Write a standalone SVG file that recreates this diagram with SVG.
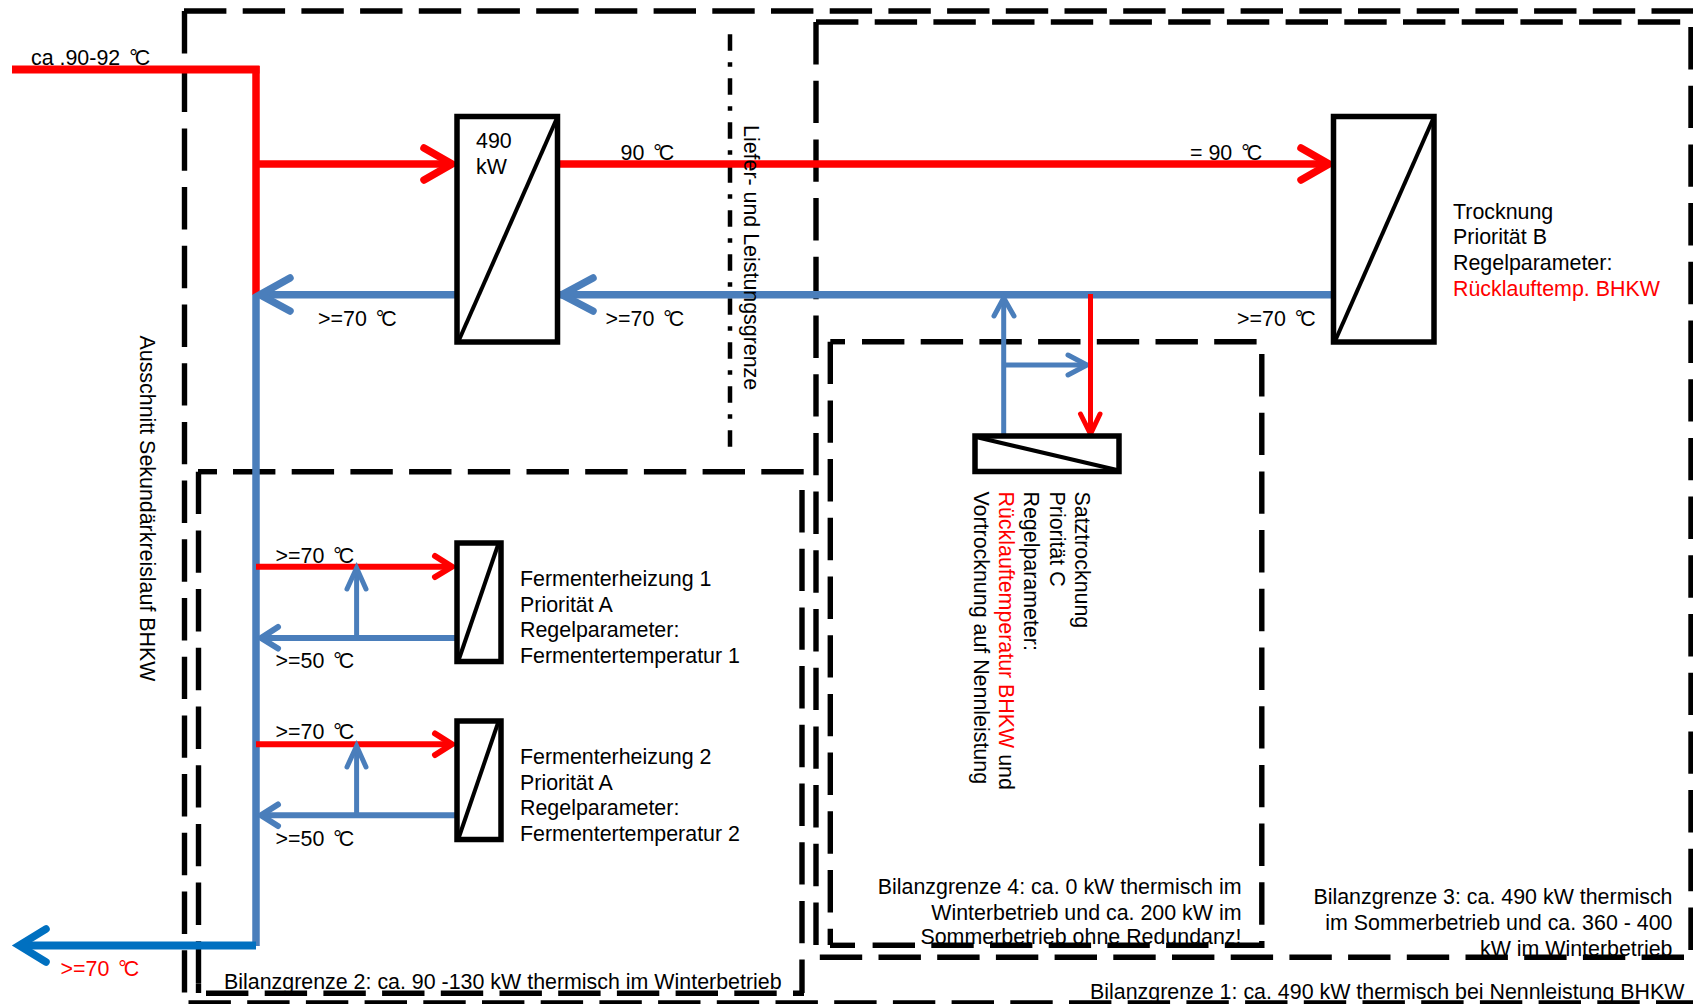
<svg xmlns="http://www.w3.org/2000/svg" width="1693" height="1004" viewBox="0 0 1693 1004">
<style>
text{font-family:"Liberation Sans",Arial,sans-serif;font-size:21.4px;fill:#000}
.red{fill:#f00}
.blk{fill:#000}
.end{text-anchor:end}
.deg{letter-spacing:-3px}
.b{fill:none;stroke:#000;stroke-width:5.4;stroke-dasharray:42.4 16.3}
.s{stroke-dasharray:none}
.dd{fill:none;stroke:#000;stroke-width:4.5;stroke-dasharray:16.4 11.6 4.4 11.6}
.hx{fill:#fff;stroke:#000;stroke-width:5.5}
.di{fill:none;stroke:#000;stroke-width:4}
.r,.u,.k{fill:none;stroke-linejoin:miter}
.r{stroke:#f00}.u{stroke:#4a7ebb}.k{stroke:#0070c0}
.w8{stroke-width:8}.w7{stroke-width:7.5}.w6{stroke-width:6}.w5{stroke-width:5}
.h{stroke-linecap:round}
</style>
<g id="boundary-1">
<path class="b" d="M184 11H1693"/><path class="b" d="M184.500 11V1003"/><path class="b" d="M188.500 1003H1693"/>
</g>
<g id="boundary-2">
<path class="b" d="M233 471.700H804"/><path class="b" d="M198.500 471.700V984"/><path class="b s" d="M198.500 984V993"/>
<path class="b" d="M206 993.300H804"/><path class="b" d="M802 490V993"/><path class="b s" d="M198 471.700H217"/>
</g>
<g id="boundary-3">
<path class="b" d="M816 22H1682"/><path class="b" d="M816 22V950"/><path class="b" d="M1691 27V950"/><path class="b" d="M819.800 957.300H1684"/>
</g>
<g id="boundary-4">
<path class="b" d="M830.300 341.700H845"/><path class="b" d="M862 341.700H1258"/><path class="b" d="M830.300 341.700V945"/><path class="b" d="M1261.800 354V948"/><path class="b" d="M872.600 945.300H1264"/><path class="b s" d="M830 945.300H855"/>
</g>
<g id="supply-limit">
<path class="dd" d="M730 34.300V447"/>
</g>
<g id="connectors">
<path class="r w8" d="M12 69.500H259.500"/>
<path class="r w7" d="M256 66V295"/>
<path class="r w7" d="M256 164H450"/>
<path class="r w7 h" d="M424 148L452 164L424 180"/>
<path class="r w7" d="M559 164H1327"/>
<path class="r w7 h" d="M1301 148L1329 164L1301 180"/>
<path class="u w7" d="M1333 294.700H560"/>
<path class="u w7 h" d="M593 278L562 294.700L593 311"/>
<path class="u w7" d="M457 294.700H260"/>
<path class="u w7 h" d="M290 278L260 294.700L290 311"/>
<path class="u w7" d="M256 295V946"/>
<path class="k w8" d="M256 945.500H20"/>
<path class="k w7 h" d="M46 929L19 945.500L46 962"/>
<path class="r w6" d="M256 566.700H450"/>
<path class="r h w6" d="M435 556L452 566.700L435 577"/>
<path class="u w6" d="M457 638H262"/>
<path class="u h w6" d="M278 627L261 638L278 648.500"/>
<path class="u w5" d="M356.600 638V571"/>
<path class="u h w5" d="M347 589L356.600 568L366 589"/>
<path class="r w6" d="M256 744.300H450"/>
<path class="r h w6" d="M435 733.500L452 744.300L435 755"/>
<path class="u w6" d="M457 815.300H262"/>
<path class="u h w6" d="M278 804.500L261 815.300L278 826"/>
<path class="u w5" d="M356.600 815.300V749"/>
<path class="u h w5" d="M347 767L356.600 746L366 767"/>
<path class="u w5" d="M1003.700 436V300"/>
<path class="u h w5" d="M994 316L1003.700 298L1014 316"/>
<path class="u w5" d="M1004 365H1085"/>
<path class="u h w5" d="M1068 355L1087 365L1068 375"/>
<path class="r w5" d="M1090.500 294V432"/>
<path class="r h w5" d="M1080.500 414L1090.500 434L1100 414"/>
</g>
<g id="hx-main">
<rect class="hx" x="457" y="116.500" width="100.500" height="225.500"/>
<path class="di" d="M459 340L557 118"/>
<text x="476" y="147.500">490</text><text x="476" y="173.500">kW</text>
</g>
<g id="hx-drying">
<rect class="hx" x="1333.500" y="116.500" width="100.500" height="225.500"/>
<path class="di" d="M1335.500 340L1433.500 118"/>
<text x="1453" y="219">Trocknung</text><text x="1453" y="244">Priorität B</text><text x="1453" y="270">Regelparameter:</text><text class="red" x="1453" y="295.500">Rücklauftemp. BHKW</text>
</g>
<g id="hx-batch">
<rect class="hx" x="975" y="436" width="144" height="35.500"/>
<path class="di" d="M976 437L1117 470"/>
<text transform="translate(1075 491.500) rotate(90)">Satztrocknung</text>
<text transform="translate(1050 491.500) rotate(90)">Priorität C</text>
<text transform="translate(1024 491.500) rotate(90)">Regelparameter:</text>
<text class="red" transform="translate(999 491.500) rotate(90)">Rücklauftemperatur BHKW <tspan class="blk">und</tspan></text>
<text transform="translate(974 491.500) rotate(90)">Vortrocknung auf Nennleistung</text>
</g>
<g id="hx-fermenter-1">
<rect class="hx" x="457" y="543" width="44" height="118.500"/>
<path class="di" d="M459 659L498 545"/>
<text x="520" y="585.500">Fermenterheizung 1</text><text x="520" y="611.500">Priorität A</text><text x="520" y="637">Regelparameter:</text><text x="520" y="662.500">Fermentertemperatur 1</text>
</g>
<g id="hx-fermenter-2">
<rect class="hx" x="457" y="721" width="44" height="118.500"/>
<path class="di" d="M459 837L498 723"/>
<text x="520" y="763.500">Fermenterheizung 2</text><text x="520" y="789.500">Priorität A</text><text x="520" y="814.500">Regelparameter:</text><text x="520" y="840.500">Fermentertemperatur 2</text>
</g>
<g id="labels">
<text transform="translate(743.500 125) rotate(90)">Liefer- und Leistungsgrenze</text>
<text transform="translate(140 335.500) rotate(90)">Ausschnitt Sekundärkreislauf BHKW</text>
<text x="1090" y="998.500">Bilanzgrenze 1: ca. 490 kW thermisch bei Nennleistung BHKW</text>
<text x="224" y="988.500">Bilanzgrenze 2: ca. 90 -130 kW thermisch im Winterbetrieb</text>
<text class="end" x="1672.500" y="903.500">Bilanzgrenze 3: ca. 490 kW thermisch</text>
<text class="end" x="1672.500" y="929.500">im Sommerbetrieb und ca. 360 - 400</text>
<text class="end" x="1672.500" y="955.500">kW im Winterbetrieb</text>
<text class="end" x="1241.500" y="893.500">Bilanzgrenze 4: ca. 0 kW thermisch im</text>
<text class="end" x="1241.500" y="919.500">Winterbetrieb und ca. 200 kW im</text>
<text class="end" x="1241.500" y="944">Sommerbetrieb ohne Redundanz!</text>
</g>
<g id="temperature-labels">
<text x="31" y="65">ca .90-92 <tspan class="deg" dx="3">°</tspan>C</text>
<text x="620.500" y="159.500">90 <tspan class="deg" dx="3">°</tspan>C</text>
<text x="1190" y="159.500">= 90 <tspan class="deg" dx="3">°</tspan>C</text>
<text x="318" y="325.500">&gt;=70 <tspan class="deg" dx="3">°</tspan>C</text>
<text x="605.500" y="325.500">&gt;=70 <tspan class="deg" dx="3">°</tspan>C</text>
<text x="1237" y="325.500">&gt;=70 <tspan class="deg" dx="3">°</tspan>C</text>
<text x="275.500" y="562.500">&gt;=70 <tspan class="deg" dx="3">°</tspan>C</text>
<text x="275.500" y="668">&gt;=50 <tspan class="deg" dx="3">°</tspan>C</text>
<text x="275.500" y="738.500">&gt;=70 <tspan class="deg" dx="3">°</tspan>C</text>
<text x="275.500" y="846">&gt;=50 <tspan class="deg" dx="3">°</tspan>C</text>
<text class="red" x="60.500" y="976">&gt;=70 <tspan class="deg" dx="3">°</tspan>C</text>
</g>
</svg>
